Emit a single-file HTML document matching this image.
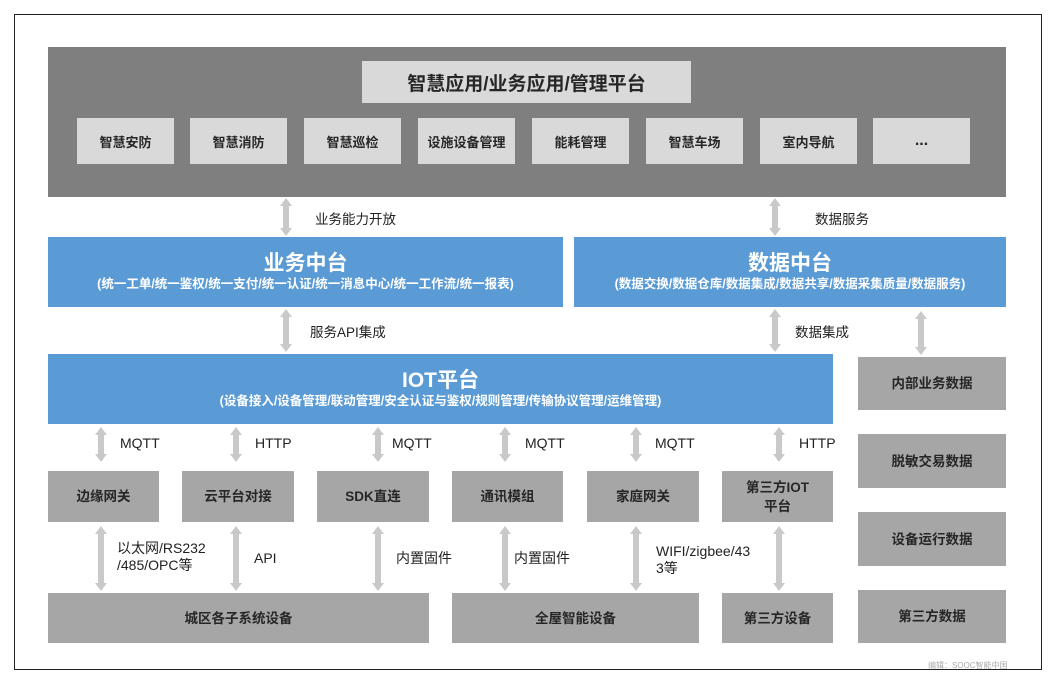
<!DOCTYPE html>
<html><head><meta charset="utf-8"><style>
*{margin:0;padding:0;box-sizing:border-box}
body{width:1054px;height:683px;background:#fff;position:relative;overflow:hidden;font-family:"Liberation Sans","Noto Sans CJK SC",sans-serif}
.b{position:absolute;display:flex;align-items:center;justify-content:center;text-align:center;font-weight:bold;color:#262626}
.lt{background:#d9d9d9;font-size:13px}
.g{background:#a6a6a6;font-size:13.5px;line-height:19px}
.bl{background:#5b9bd5;color:#fff;flex-direction:column}
.bl .t{font-size:21px;line-height:24px}
.bl .s{font-size:12.5px;line-height:16px}
.l{position:absolute;font-size:13.5px;color:#222;line-height:17px}
</style></head><body>
<div style="position:absolute;left:14px;top:14px;width:1028px;height:656px;border:1.5px solid #222"></div>
<div style="position:absolute;left:48px;top:47px;width:958px;height:150px;background:#7f7f7f"></div>
<div class="b lt" style="left:362px;top:61px;width:329px;height:42px;font-size:19px">智慧应用/业务应用/管理平台</div>
<div class="b lt" style="left:77px;top:118px;width:97px;height:46px">智慧安防</div>
<div class="b lt" style="left:190px;top:118px;width:97px;height:46px">智慧消防</div>
<div class="b lt" style="left:304px;top:118px;width:97px;height:46px">智慧巡检</div>
<div class="b lt" style="left:418px;top:118px;width:97px;height:46px">设施设备管理</div>
<div class="b lt" style="left:532px;top:118px;width:97px;height:46px">能耗管理</div>
<div class="b lt" style="left:646px;top:118px;width:97px;height:46px">智慧车场</div>
<div class="b lt" style="left:760px;top:118px;width:97px;height:46px">室内导航</div>
<div class="b lt" style="left:873px;top:118px;width:97px;height:46px;font-size:16px">...</div>

<div class="b bl" style="left:48px;top:237px;width:515px;height:70px"><div class="t">业务中台</div><div class="s">(统一工单/统一鉴权/统一支付/统一认证/统一消息中心/统一工作流/统一报表)</div></div>
<div class="b bl" style="left:574px;top:237px;width:432px;height:70px"><div class="t">数据中台</div><div class="s">(数据交换/数据仓库/数据集成/数据共享/数据采集质量/数据服务)</div></div>
<div class="b bl" style="left:48px;top:354px;width:785px;height:70px"><div class="t">IOT平台</div><div class="s">(设备接入/设备管理/联动管理/安全认证与鉴权/规则管理/传输协议管理/运维管理)</div></div>

<div class="b g" style="left:858px;top:357px;width:148px;height:53px">内部业务数据</div>
<div class="b g" style="left:858px;top:434px;width:148px;height:54px">脱敏交易数据</div>
<div class="b g" style="left:858px;top:512px;width:148px;height:54px">设备运行数据</div>
<div class="b g" style="left:858px;top:590px;width:148px;height:53px">第三方数据</div>

<div class="b g" style="left:48px;top:471px;width:111px;height:51px">边缘网关</div>
<div class="b g" style="left:182px;top:471px;width:112px;height:51px">云平台对接</div>
<div class="b g" style="left:317px;top:471px;width:112px;height:51px">SDK直连</div>
<div class="b g" style="left:452px;top:471px;width:111px;height:51px">通讯模组</div>
<div class="b g" style="left:587px;top:471px;width:112px;height:51px">家庭网关</div>
<div class="b g" style="left:722px;top:471px;width:111px;height:51px">第三方IOT<br>平台</div>
<div class="b g" style="left:48px;top:593px;width:381px;height:50px">城区各子系统设备</div>
<div class="b g" style="left:452px;top:593px;width:247px;height:50px">全屋智能设备</div>
<div class="b g" style="left:722px;top:593px;width:111px;height:50px">第三方设备</div>

<svg width="1054" height="683" style="position:absolute;left:0;top:0" fill="#c9c9c9">
<g id="a"></g>
<polygon points="286,198 292,206 289,206 289,228 292,228 286,236 280,228 283,228 283,206 280,206"/>
<polygon points="775,198 781,206 778,206 778,228 781,228 775,236 769,228 772,228 772,206 769,206"/>
<polygon points="286,309 292,317 289,317 289,344 292,344 286,352 280,344 283,344 283,317 280,317"/>
<polygon points="775,309 781,317 778,317 778,344 781,344 775,352 769,344 772,344 772,317 769,317"/>
<polygon points="921,311 927,319 924,319 924,347 927,347 921,355 915,347 918,347 918,319 915,319"/>
<polygon points="101,427 107,435 104,435 104,454 107,454 101,462 95,454 98,454 98,435 95,435"/>
<polygon points="236,427 242,435 239,435 239,454 242,454 236,462 230,454 233,454 233,435 230,435"/>
<polygon points="378,427 384,435 381,435 381,454 384,454 378,462 372,454 375,454 375,435 372,435"/>
<polygon points="505,427 511,435 508,435 508,454 511,454 505,462 499,454 502,454 502,435 499,435"/>
<polygon points="636,427 642,435 639,435 639,454 642,454 636,462 630,454 633,454 633,435 630,435"/>
<polygon points="779,427 785,435 782,435 782,454 785,454 779,462 773,454 776,454 776,435 773,435"/>
<polygon points="101,526 107,534 104,534 104,583 107,583 101,591 95,583 98,583 98,534 95,534"/>
<polygon points="236,526 242,534 239,534 239,583 242,583 236,591 230,583 233,583 233,534 230,534"/>
<polygon points="378,526 384,534 381,534 381,583 384,583 378,591 372,583 375,583 375,534 372,534"/>
<polygon points="505,526 511,534 508,534 508,583 511,583 505,591 499,583 502,583 502,534 499,534"/>
<polygon points="636,526 642,534 639,534 639,583 642,583 636,591 630,583 633,583 633,534 630,534"/>
<polygon points="779,526 785,534 782,534 782,583 785,583 779,591 773,583 776,583 776,534 773,534"/>
</svg>

<div class="l" style="left:315px;top:211px">业务能力开放</div>
<div class="l" style="left:815px;top:211px">数据服务</div>
<div class="l" style="left:310px;top:324px">服务API集成</div>
<div class="l" style="left:795px;top:324px">数据集成</div>
<div class="l" style="left:120px;top:435px;font-size:14px">MQTT</div>
<div class="l" style="left:255px;top:435px;font-size:14px">HTTP</div>
<div class="l" style="left:392px;top:435px;font-size:14px">MQTT</div>
<div class="l" style="left:525px;top:435px;font-size:14px">MQTT</div>
<div class="l" style="left:655px;top:435px;font-size:14px">MQTT</div>
<div class="l" style="left:799px;top:435px;font-size:14px">HTTP</div>
<div class="l" style="left:117px;top:540px;font-size:14px">以太网/RS232<br>/485/OPC等</div>
<div class="l" style="left:254px;top:550px;font-size:14px">API</div>
<div class="l" style="left:396px;top:550px;font-size:14px">内置固件</div>
<div class="l" style="left:514px;top:550px;font-size:14px">内置固件</div>
<div class="l" style="left:656px;top:543px;font-size:14px">WIFI/zigbee/43<br>3等</div>
<div class="l" style="left:928px;top:657px;font-size:8px;color:#aaa">编辑：SOOC智能中国</div>
</body></html>
